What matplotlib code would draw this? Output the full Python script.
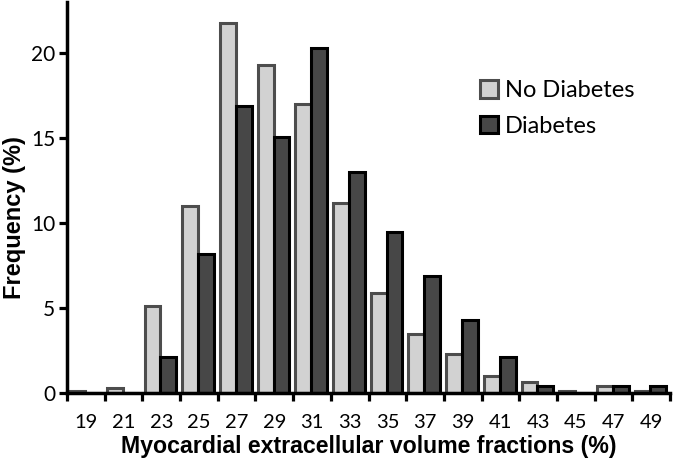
import numpy as np
import matplotlib.pyplot as plt

# bins of ECV (%)
bins = ['19', '21', '23', '25', '27', '29', '31', '33', '35', '37', '39', '41', '43', '45', '47', '49']
no_diabetes = [0.1, 0.3, 5.1, 11.0, 21.8, 19.3, 17.0, 11.2, 5.9, 3.5, 2.3, 1.0, 0.65, 0.15, 0.4, 0.1]
diabetes = [0.0, 0.0, 2.1, 8.2, 16.9, 15.1, 20.3, 13.0, 9.5, 6.9, 4.3, 2.15, 0.4, 0.0, 0.4, 0.4]

fig = plt.figure(figsize=(6.73, 4.62), dpi=100)
ax = fig.add_axes([0.0996, 0.149, 0.896, 0.846])

x = np.arange(len(bins))
w = 0.42
ax.bar(x - w/2 - 0.02, no_diabetes, w, color='#d2d2d2', edgecolor='#4d4d4d',
       linewidth=2.2, label='No Diabetes', zorder=2)
ax.bar(x + w/2 - 0.02, diabetes, w, color='#474747', edgecolor='#000000',
       linewidth=2.2, label='Diabetes', zorder=3)

ax.set_xlim(-0.5, len(bins) - 0.5)
ax.set_ylim(0, 23)

ax.spines['top'].set_visible(False)
ax.spines['right'].set_visible(False)
ax.spines['left'].set_linewidth(2.5)
ax.spines['bottom'].set_linewidth(2.5)
ax.spines['bottom'].set_zorder(5)

ax.set_xticks(x)
ax.set_xticklabels(bins, fontfamily='Lato', fontsize=14.5)
ax.set_xticks(np.arange(len(bins) + 1) - 0.5, minor=True)
ax.tick_params(axis='x', which='major', length=0, pad=15)
ax.tick_params(axis='x', which='minor', length=5.5, width=2.3, direction='out')

ax.set_yticks([0, 5, 10, 15, 20])
ax.set_yticklabels(['0', '5', '10', '15', '20'], fontfamily='Lato', fontsize=15)
ax.tick_params(axis='y', length=5.5, width=2.3, direction='out', pad=3)

ax.set_xlabel('Myocardial extracellular volume fractions (%)', fontfamily='Liberation Sans',
              fontweight='bold', fontsize=16.7, labelpad=3)
ax.set_ylabel('Frequency (%)', fontfamily='Liberation Sans', fontweight='bold',
              fontsize=17)
ax.yaxis.set_label_coords(-0.068, 0.45)

leg = ax.legend(loc='upper left', bbox_to_anchor=(0.65, 0.855), frameon=False,
                prop={'family': 'Lato', 'size': 17}, handlelength=0.75,
                handleheight=0.75, handletextpad=0.3, labelspacing=0.62)

fig.savefig('out.png', dpi=100)
